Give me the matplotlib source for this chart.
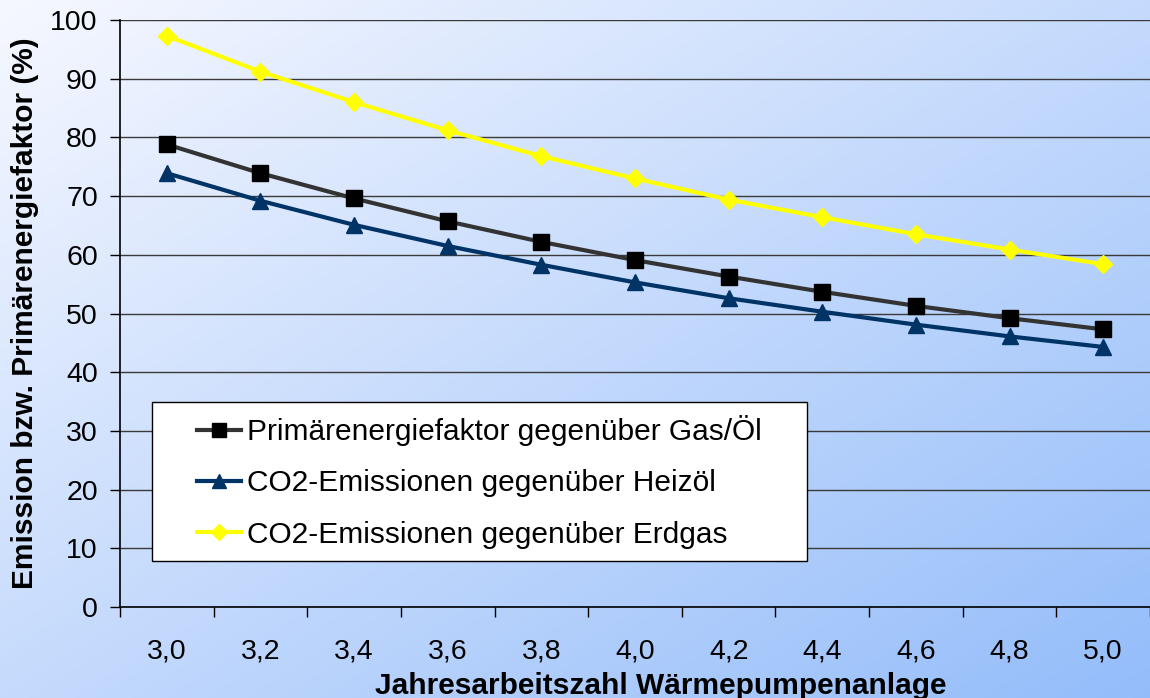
import matplotlib.pyplot as plt
from matplotlib.patches import Rectangle
import numpy as np

plt.rcParams["font.family"] = ["Liberation Sans", "DejaVu Sans"]

# data
jaz_labels = ["3,0", "3,2", "3,4", "3,6", "3,8", "4,0", "4,2", "4,4", "4,6", "4,8", "5,0"]
primaer = [78.8, 73.9, 69.6, 65.7, 62.2, 59.1, 56.3, 53.7, 51.3, 49.2, 47.3]
heizoel = [73.9, 69.2, 65.1, 61.5, 58.3, 55.3, 52.6, 50.3, 48.1, 46.1, 44.3]
erdgas = [97.3, 91.2, 86.0, 81.2, 76.8, 73.0, 69.4, 66.4, 63.5, 60.9, 58.4]

W, H = 1150, 698
fig = plt.figure(figsize=(W / 100, H / 100), dpi=100)

# diagonal gradient background: near white top-left, light blue bottom-right
bg = fig.add_axes([0, 0, 1, 1], zorder=-10)
gx, gy = np.meshgrid(np.linspace(0, 1, 200), np.linspace(0, 1, 200))
t = (gx + gy) / 2
c0 = np.array([0.965, 0.972, 1.0])
c1 = np.array([0.58, 0.74, 0.98])
img = c0[None, None, :] * (1 - t[..., None]) + c1[None, None, :] * t[..., None]
bg.imshow(img, aspect="auto", extent=[0, 1, 0, 1], origin="upper")
bg.axis("off")

ax = fig.add_axes([120 / W, 1 - 607 / H, 1 - 120 / W, 587 / H])
ax.patch.set_alpha(0)

x = np.arange(len(jaz_labels))
ax.plot(x, primaer, color="#333333", lw=3, marker="s", ms=11,
        mfc="black", mec="black", label="Primärenergiefaktor gegenüber Gas/Öl", zorder=4)
ax.plot(x, heizoel, color="#003366", lw=3, marker="^", ms=11,
        mfc="#003366", mec="#003366", label="CO2-Emissionen gegenüber Heizöl", zorder=4)
ax.plot(x, erdgas, color="#ffff00", lw=3, marker="D", ms=9,
        mfc="#ffff00", mec="#ffff00", label="CO2-Emissionen gegenüber Erdgas", zorder=4)

ax.set_xlim(-0.5, len(x) - 0.5)
ax.set_ylim(0, 100)
ax.set_yticks(np.arange(0, 101, 10))
ax.tick_params(axis="y", labelsize=20.5, length=7, width=1, direction="out", pad=9)
ax.set_xticks(x)
ax.set_xticklabels(jaz_labels)
ax.set_xticks(np.arange(-0.5, len(x), 1), minor=True)
ax.tick_params(axis="x", which="major", length=0, labelsize=20.5, pad=23)
ax.tick_params(axis="x", which="minor", length=7, width=1, direction="out")
ax.grid(axis="y", color="#3a3a3a", lw=1)
ax.set_axisbelow(True)
for s in ["top", "right"]:
    ax.spines[s].set_visible(False)
ax.spines["left"].set_linewidth(1.2)
ax.spines["bottom"].set_linewidth(1.2)

ax.set_xlabel("Jahresarbeitszahl Wärmepumpenanlage", fontsize=21.5, fontweight="bold")
ax.xaxis.set_label_coords(0.525, -0.111)
ax.set_ylabel("Emission bzw. Primärenergiefaktor (%)", fontsize=21.5, fontweight="bold")
ax.yaxis.set_label_coords(-0.0786, 0.5)

# legend box: white frame with wide side padding
frame = Rectangle((152 / W, 1 - 561 / H), 655 / W, 159 / H, transform=fig.transFigure,
                  facecolor="white", edgecolor="black", lw=1, zorder=5, clip_on=False)
ax.add_patch(frame)
leg = ax.legend(loc="upper left", bbox_to_anchor=(197 / W, 1 - 415 / H),
                bbox_transform=fig.transFigure, fontsize=21.5, frameon=False,
                handlelength=1.47, handletextpad=0.2, labelspacing=0.78,
                borderpad=0, borderaxespad=0, markerscale=0.9)
leg.set_zorder(6)

fig.savefig("out.png", dpi=100)
